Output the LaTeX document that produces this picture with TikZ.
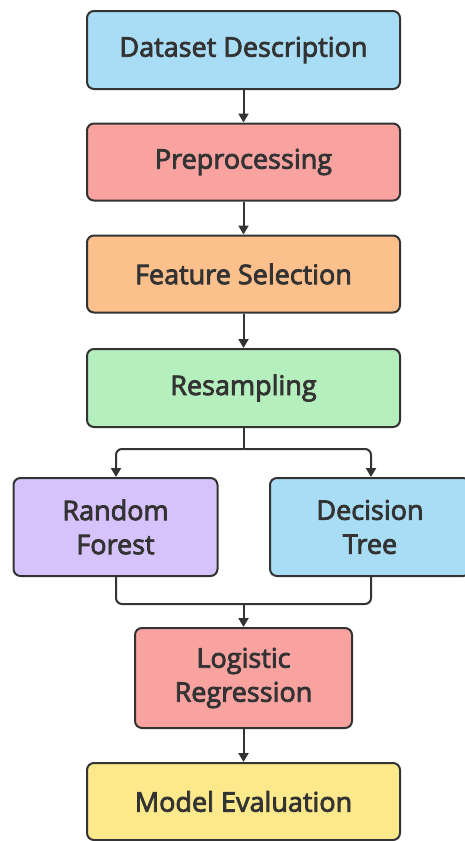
\documentclass[tikz,border=0pt]{standalone}
\usepackage{fontspec}
\setmainfont{Open Sans}
\newfontfamily\boxfont{Open Sans}[FakeBold=3]
\usetikzlibrary{arrows.meta}
\definecolor{cblue}{HTML}{A8DDF5}
\definecolor{cred}{HTML}{F9A3A1}
\definecolor{corange}{HTML}{FBC08C}
\definecolor{cgreen}{HTML}{B5EFBD}
\definecolor{cpurple}{HTML}{D7C3FB}
\definecolor{cyellow}{HTML}{FCE98C}
\definecolor{cline}{HTML}{333333}
\tikzset{
  box/.style={draw=cline, line width=2pt, rounded corners=7pt, align=center,
    font=\boxfont\fontsize{27}{34}\selectfont, text=cline, inner sep=0pt},
  conn/.style={draw=cline, line width=2pt, rounded corners=6pt},
  arr/.style={conn, -{Triangle[length=9pt,width=10pt]}}
}
\begin{document}
\begin{tikzpicture}[x=1pt,y=-1pt]
\useasboundingbox (0,0) rectangle (465,841);
\node[box, fill=cblue, minimum width=313pt, minimum height=78pt] (ds) at (243.5,50) {Dataset Description};
\node[box, fill=cred, minimum width=313pt, minimum height=77pt] (pp) at (243.5,162) {Preprocessing};
\node[box, fill=corange, minimum width=313pt, minimum height=77pt] (fs) at (243.5,274) {Feature Selection};
\node[box, fill=cgreen, minimum width=313pt, minimum height=78pt] (rs) at (243.5,388) {Resampling};
\node[box, fill=cpurple, minimum width=204pt, minimum height=98pt] (rf) at (115.5,527) {Random\\Forest};
\node[box, fill=cblue, minimum width=200pt, minimum height=98pt] (dt) at (370,527) {Decision\\Tree};
\node[box, fill=cred, minimum width=217pt, minimum height=100pt] (lr) at (243.5,678) {Logistic\\Regression};
\node[box, fill=cyellow, minimum width=313pt, minimum height=77pt] (me) at (243.5,801.5) {Model Evaluation};
\coordinate (split) at (243.5,449);
\coordinate (join) at (243.5,604);
\draw[arr] (ds) -- (pp);
\draw[arr] (pp) -- (fs);
\draw[arr] (fs) -- (rs);
\draw[conn] (rs.south) -- (split);
\draw[arr] (split) -| (rf.north -| 116,0);
\draw[arr] (split) -| (dt.north -| 371,0);
\draw[conn] (rf.south -| 116,0) |- (join) -| (dt.south -| 371,0);
\draw[arr] (join) -- (lr.north);
\draw[arr] (lr) -- (me);
\end{tikzpicture}
\end{document}
